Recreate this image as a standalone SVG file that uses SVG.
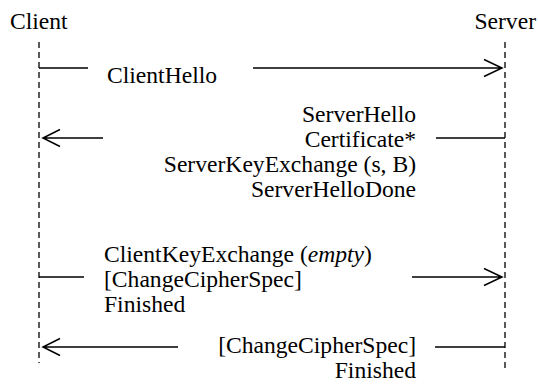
<svg xmlns="http://www.w3.org/2000/svg" width="538" height="385" viewBox="0 0 538 385">
<style>
text{font-family:"Liberation Serif","Times New Roman",serif;font-size:23.6px;fill:#000}
.life{stroke:#000;stroke-width:1.3;stroke-dasharray:6 4;fill:none}
.msg{stroke:#000;stroke-width:1.5;fill:none}
.r{text-anchor:end}
</style>
<rect width="538" height="385" fill="#fff"/>
<g id="client">
<text x="10" y="29">Client</text>
<line class="life" x1="39" y1="42" x2="39" y2="363"/>
</g>
<g id="server">
<text x="536" y="29" class="r">Server</text>
<line class="life" x1="505" y1="42" x2="505" y2="372"/>
</g>
<g id="connectors">
<g id="m1">
<path class="msg" d="M39 68H88M253 68H502M484 59.5L502 68L484 76.5"/>
</g>
<g id="m2">
<path class="msg" d="M436 138H505M103 138H43M60 129.5L43 138L60 146.5"/>
</g>
<g id="m3">
<path class="msg" d="M39 277H84M412 277H502M484 268.5L502 277L484 285.5"/>
</g>
<g id="m4">
<path class="msg" d="M435 347H505M178 347H43M60 338.5L43 347L60 355.5"/>
</g>
</g>
<g id="label-m1">
<text x="107" y="82.5">ClientHello</text>
</g>
<g id="label-m2">
<text x="416" y="122" class="r">ServerHello</text>
<text x="416" y="147" class="r">Certificate*</text>
<text x="416" y="172" class="r">ServerKeyExchange (s, B)</text>
<text x="416" y="197" class="r">ServerHelloDone</text>
</g>
<g id="label-m3">
<text x="104" y="262">ClientKeyExchange (<tspan font-style="italic">empty</tspan>)</text>
<text x="104" y="287">[ChangeCipherSpec]</text>
<text x="104" y="312">Finished</text>
</g>
<g id="label-m4">
<text x="416" y="353" class="r">[ChangeCipherSpec]</text>
<text x="416" y="378" class="r">Finished</text>
</g>
</svg>
